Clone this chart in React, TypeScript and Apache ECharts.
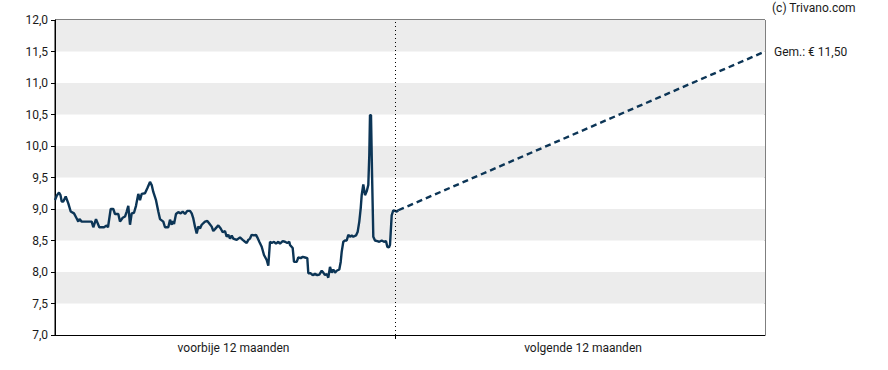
import React, { useEffect, useRef } from "react";
import * as echarts from "echarts";

// time axis in "chart days": past period 0..340.5, future period 340.5..710
const periodSplit = 340.5;
const periodEnd = 710;
const periodLabels = ["voorbije 12 maanden", "volgende 12 maanden"];
const periodLabelAt = [178.5, 528];

const yTicks = [7, 12, 0.5]; // min, max, interval

// past 12 months closing prices [t, price]
const pastPrices: [number, number][] = [
  [0, 9.14], [2, 9.22], [4, 9.26], [5.5, 9.22], [6.7, 9.12], [8.3, 9.12], [10.7, 9.2], [13.3, 9.09],
  [15.7, 8.96], [19, 8.93], [21.7, 8.85], [23.3, 8.8], [24.5, 8.84], [26.7, 8.8], [36.7, 8.8],
  [38.3, 8.71], [41, 8.84], [44.3, 8.71], [49, 8.71], [51.7, 8.74], [53, 8.71], [55.7, 9.0],
  [58.3, 9.0], [60, 8.92], [63.3, 8.92], [65, 8.8], [67.7, 8.86], [70, 8.88], [71.7, 8.96],
  [73.3, 9.05], [75, 8.75], [76.7, 8.93], [79, 8.94], [81, 9.05], [83.3, 9.24], [85, 9.14],
  [86.7, 9.24], [90, 9.25], [92.3, 9.33], [95, 9.43], [96.7, 9.38], [98.3, 9.27], [101, 9.14],
  [103.3, 8.96], [105, 8.84], [108.3, 8.8], [110, 8.71], [113.3, 8.71], [115, 8.83], [116.7, 8.75],
  [117.7, 8.81], [119, 8.76], [121, 8.92], [123.3, 8.95], [125.7, 8.93], [127.7, 8.96], [130, 8.92],
  [132.3, 8.97], [135, 8.97], [136.7, 8.93], [138.3, 8.85], [140, 8.72], [141.7, 8.61], [143.3, 8.72],
  [145, 8.69], [146.7, 8.75], [150, 8.8], [152.3, 8.81], [154.3, 8.77], [156.7, 8.72], [158.3, 8.65],
  [160, 8.68], [163.3, 8.74], [165.7, 8.69], [167.7, 8.63], [170, 8.65], [171.7, 8.56], [173.3, 8.59],
  [175, 8.53], [176.7, 8.58], [178.3, 8.53], [181.7, 8.51], [185, 8.55], [187.7, 8.51], [190, 8.48],
  [191.7, 8.46], [193.3, 8.51], [195, 8.53], [196.7, 8.59], [199, 8.58], [201, 8.59], [202.3, 8.55],
  [204.3, 8.48], [206.7, 8.4], [209, 8.27], [211.7, 8.19], [213.3, 8.1], [215, 8.48], [216.7, 8.46],
  [219, 8.48], [221, 8.45], [223.3, 8.48], [225, 8.45], [227.7, 8.49], [230, 8.48], [232.3, 8.46],
  [234.3, 8.48], [235, 8.43], [237.7, 8.38], [239, 8.16], [241.7, 8.16], [243.3, 8.23], [245.7, 8.22],
  [247.7, 8.24], [250, 8.23], [252.3, 8.22], [253.3, 7.98], [255.7, 7.98], [257.7, 7.95], [260, 7.97],
  [262.3, 7.95], [264.3, 7.96], [266.7, 8.02], [268.3, 7.99], [270, 7.95], [271.7, 7.97], [273.3, 7.91],
  [275, 8.08], [276.7, 7.99], [278.3, 8.04], [280, 7.99], [281.7, 8.02], [284.3, 8.04], [285.7, 8.16],
  [286.7, 8.32], [288.3, 8.48], [290, 8.5], [291.7, 8.5], [293.3, 8.59], [295, 8.56], [296.7, 8.58],
  [298.3, 8.56], [301, 8.58], [302.7, 8.64], [304.3, 8.8], [305.7, 9.01], [306.7, 9.22], [308.3, 9.39],
  [310, 9.22], [311.7, 9.28], [313.3, 9.38], [314.3, 9.86], [315, 10.49], [316, 10.49], [317, 9.59],
  [318.3, 8.56], [320, 8.5], [322.3, 8.49], [324.3, 8.48], [326.7, 8.5], [329, 8.48], [331, 8.49],
  [332.3, 8.4], [334, 8.39], [335, 8.43], [336.7, 8.9], [338.3, 8.98], [340, 8.97], [341.7, 8.96],
  [343.3, 8.98],
];

// analyst target (average) in 12 months
const targetPrice = 11.5;
const forecast: [number, number][] = [
  [343.3, 8.98],
  [periodEnd, targetPrice],
];

const copyright = "(c) Trivano.com";

const fmtComma = (v: number, d: number) => v.toFixed(d).replace(".", ",");

export default function App() {
  const ref = useRef<HTMLDivElement>(null);
  useEffect(() => {
    if (!ref.current) return;
    const chart = echarts.init(ref.current, undefined, { renderer: "svg" });
    const font = "Roboto";
    const lineColor = "#0c3556";
    const textColor = "#1a1a1a";
    chart.setOption({
      animation: false,
      textStyle: { fontFamily: font },
      grid: {
        left: 55,
        right: 123,
        top: 20,
        bottom: 35,
        show: true,
        borderColor: "#000",
        borderWidth: 1,
        backgroundColor: "transparent",
      },
      xAxis: {
        type: "value",
        min: 0,
        max: periodEnd,
        axisLine: { show: true, lineStyle: { color: "#000", width: 1 } },
        axisTick: {
          show: true,
          customValues: [periodSplit],
          length: 4,
          lineStyle: { color: "#000" },
        },
        axisLabel: {
          customValues: periodLabelAt,
          formatter: (v: number) => (v < periodSplit ? periodLabels[0] : periodLabels[1]),
          color: textColor,
          fontSize: 12,
          fontFamily: font,
          margin: 7,
        },
        splitLine: { show: false },
      },
      yAxis: {
        type: "value",
        min: yTicks[0],
        max: yTicks[1],
        interval: yTicks[2],
        axisLine: { show: true, lineStyle: { color: "#000", width: 1 } },
        axisTick: { show: true, length: 4, lineStyle: { color: "#000" } },
        axisLabel: {
          formatter: (v: number) => fmtComma(v, 1),
          color: textColor,
          fontSize: 12,
          fontFamily: font,
          margin: 7,
        },
        splitLine: { show: false },
        splitArea: { show: true, areaStyle: { color: ["#ffffff", "#ececec"] } },
      },
      series: [
        {
          type: "line",
          data: pastPrices,
          showSymbol: false,
          symbol: "none",
          lineStyle: { color: lineColor, width: 2.4 },
          markLine: {
            silent: true,
            symbol: "none",
            label: { show: false },
            lineStyle: { color: "#000", type: [1, 3], width: 1 },
            data: [{ xAxis: periodSplit }],
          },
          z: 3,
        },
        {
          type: "line",
          data: forecast,
          showSymbol: false,
          symbol: "none",
          lineStyle: { color: lineColor, width: 2.4, type: [6, 4] },
          endLabel: {
            show: true,
            formatter: () => `Gem.: € ${fmtComma(targetPrice, 2)}`,
            color: textColor,
            fontSize: 12,
            fontFamily: font,
            distance: 9,
          },
          z: 3,
        },
      ],
      graphic: [
        {
          type: "text",
          left: 772,
          top: 2,
          style: { text: copyright, fill: textColor, fontSize: 12, fontFamily: font },
        },
      ],
    });
    return () => chart.dispose();
  }, []);
  return (
    <div
      ref={ref}
      style={{ position: "absolute", left: 0, top: 0, width: 888, height: 370 }}
    />
  );
}
